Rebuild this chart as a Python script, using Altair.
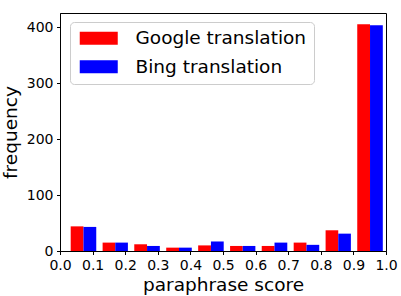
import altair as alt
import pandas as pd

series_names = ["Google translation", "Bing translation"]
bin_edges = [0.023, 0.121, 0.218, 0.316, 0.414, 0.512, 0.609, 0.707, 0.805, 0.902, 1.0]
google_counts = [44, 15, 12, 6, 10, 9, 9, 15, 37, 405]
bing_counts = [43, 15, 9, 6, 17, 9, 15, 11, 31, 403]
x_ticks = [0.0, 0.1, 0.2, 0.3, 0.4, 0.5, 0.6, 0.7, 0.8, 0.9, 1.0]
y_ticks = [0, 100, 200, 300, 400]
colors = ["#ff0000", "#0000ff"]

rows = []
for k, (name, vals) in enumerate(zip(series_names, [google_counts, bing_counts])):
    for i, v in enumerate(vals):
        rows.append({"series": name, "k": k, "start": bin_edges[i], "end": bin_edges[i + 1], "count": v})
df = pd.DataFrame(rows)

FONT = "DejaVu Sans"

chart = alt.Chart(df).transform_calculate(
    x0="datum.start + (0.1 + 0.4*datum.k)*(datum.end - datum.start)",
    x1="datum.start + (0.5 + 0.4*datum.k)*(datum.end - datum.start)",
).mark_bar(stroke=None).encode(
    x=alt.X("x0:Q", scale=alt.Scale(domain=[0, 1], nice=False, zero=False, padding=0),
            axis=alt.Axis(values=x_ticks, format=".1f", title="paraphrase score",
                          labelFlush=False, labelOverlap=False)),
    x2="x1:Q",
    y=alt.Y("count:Q", scale=alt.Scale(domain=[0, 425], nice=False, padding=0),
            axis=alt.Axis(values=y_ticks, title="frequency")),
    y2=alt.datum(0),
    color=alt.Color("series:N", sort=series_names,
                    scale=alt.Scale(domain=series_names, range=colors),
                    legend=alt.Legend(
                        title=None, orient="none", legendX=10, legendY=9,
                        symbolType="M-1,-1L4.846,-1L4.846,1L-1,1Z",
                        symbolSize=169, symbolStrokeWidth=0,
                        labelOffset=40, labelFontSize=18.5, labelFont=FONT,
                        labelColor="#000", rowPadding=9.5,
                        padding=7, fillColor="white", strokeColor="#cccccc",
                        cornerRadius=4, labelLimit=300)),
).properties(
    width=326, height=238,
    padding={"left": 60, "top": 13, "right": 15, "bottom": 45},
    autosize=alt.AutoSizeParams(type="none"),
).configure_view(
    stroke="#000", strokeWidth=1
).configure_axis(
    grid=False, domainColor="#000", tickColor="#000", tickSize=3.5,
    labelFont=FONT, labelFontSize=14, labelColor="#000", labelPadding=3.5,
    titleFont=FONT, titleFontSize=18.5, titleColor="#000", titleFontWeight="normal",
).configure_axisY(
    titlePadding=6
).configure_axisX(
    titlePadding=3
)

chart.save("out.html", embed_options={"renderer": "svg", "actions": False})
